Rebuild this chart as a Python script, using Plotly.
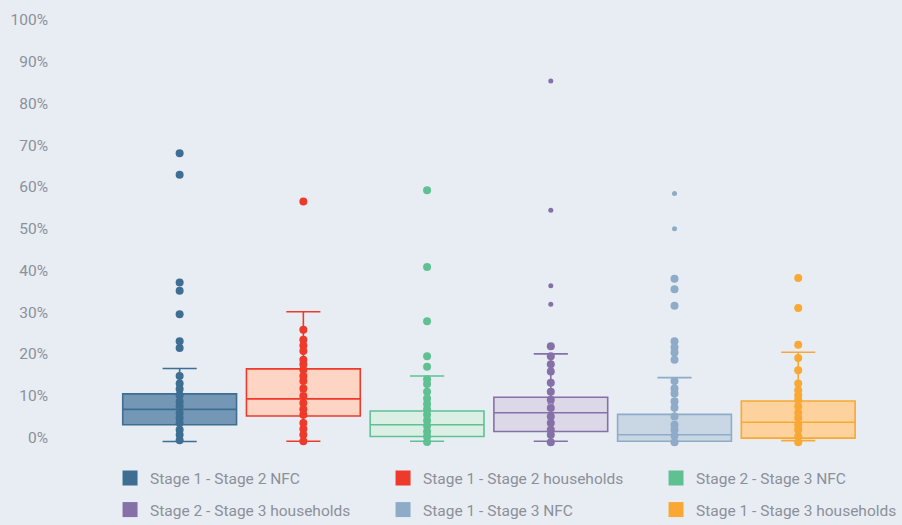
import plotly.graph_objects as go

# Transition rates by stage (%), one box per series
series = [
    "Stage 1 - Stage 2 NFC",
    "Stage 1 - Stage 2 households",
    "Stage 2 - Stage 3 NFC",
    "Stage 2 - Stage 3 households",
    "Stage 1 - Stage 3 NFC",
    "Stage 1 - Stage 3 households",
]

q1 = [3.0, 5.1, 0.2, 1.4, -0.95, -0.2]
median = [6.7, 9.2, 3.0, 5.9, 0.6, 3.6]
q3 = [10.4, 16.4, 6.3, 9.6, 5.5, 8.7]
lower_fence = [-1.0, -0.95, -0.95, -0.95, -0.95, -0.8]
upper_fence = [16.5, 30.1, 14.7, 20.0, 14.3, 20.4]
means = [10.2, 11.5, 8.1, 8.6, 8.6, 9.0]

obs_s1s2_nfc = [68.1, 62.9, 37.1, 35.1, 29.5, 23.0, 21.4, 14.7, 12.9, 11.6, 10.1,
                8.6, 7.5, 5.8, 4.6, 3.4, 1.8, 0.6, -0.7]
obs_s1s2_hh = [56.5, 25.8, 23.4, 22.0, 20.7, 18.6, 17.5, 16.2, 14.7, 13.5, 11.7,
               9.9, 8.2, 6.7, 5.4, 3.4, 2.0, 0.6, -0.95]
obs_s2s3_nfc = [59.2, 40.8, 27.8, 19.4, 16.9, 13.9, 12.8, 10.9, 9.3, 8.0, 6.7,
                5.4, 4.0, 2.8, 1.4, 0.2, -1.1]
obs_s2s3_hh = [85.4, 54.4, 36.3, 31.9, 21.8, 19.4, 17.5, 15.8, 13.1, 10.9, 9.0,
               7.0, 5.0, 3.4, 1.8, 0.6, -1.2]
obs_s1s3_nfc = [58.4, 50.0, 38.0, 35.5, 31.5, 23.0, 21.6, 20.3, 18.6, 13.5, 11.7,
                10.5, 8.6, 7.1, 5.0, 3.0, 1.8, 0.4, -1.2]
obs_s1s3_hh = [38.2, 31.0, 22.2, 19.0, 16.1, 12.9, 11.3, 10.1, 9.0, 7.4, 5.9,
               4.6, 3.0, 1.8, 0.2, -1.2]
observations = [obs_s1s2_nfc, obs_s1s2_hh, obs_s2s3_nfc, obs_s2s3_hh,
                obs_s1s3_nfc, obs_s1s3_hh]

# number of leading points drawn with the smaller dot
small_dots = [0, 0, 0, 4, 2, 0]

y_ticks = list(range(0, 101, 10))
y_tick_labels = [f"{v}%" for v in y_ticks]

line_colors = ["#3e6e92", "#ee3a2b", "#5fc192", "#8571a7", "#8eabc7", "#f9a834"]
fill_colors = ["#7397b4", "#fed5c4", "#dcefe4", "#ddd8e7", "#c9d6e4", "#fed29c"]

FONT = "Roboto, sans-serif"
FONT_SIZE = 15.5
TEXT = "#8c9099"
BG = "#e8edf4"

fig = go.Figure()

for i, name in enumerate(series):
    fig.add_trace(go.Box(
        x=[i], q1=[q1[i]], median=[median[i]], q3=[q3[i]],
        lowerfence=[lower_fence[i]], upperfence=[upper_fence[i]],
        width=0.92, whiskerwidth=0.3,
        line=dict(color=line_colors[i], width=1.6),
        fillcolor=fill_colors[i], boxpoints=False,
        showlegend=False, hoverinfo="skip",
    ))

for i, name in enumerate(series):
    # mean marker
    fig.add_trace(go.Scatter(
        x=[i], y=[means[i]], mode="markers",
        marker=dict(symbol="x-thin", size=6, line=dict(color=line_colors[i], width=1.2)),
        showlegend=False, hoverinfo="skip",
    ))
    vals = observations[i]
    sizes = [5 if k < small_dots[i] else 8 for k in range(len(vals))]
    fig.add_trace(go.Scatter(
        x=[i] * len(vals), y=vals, mode="markers",
        marker=dict(color=line_colors[i], size=sizes, opacity=1, line=dict(width=0)),
        showlegend=False, hoverinfo="y",
    ))

# legend entries: two rows of three
for i, name in enumerate(series):
    fig.add_trace(go.Scatter(
        x=[None], y=[None], mode="markers", name=name,
        marker=dict(symbol="square", size=15, color=line_colors[i]),
        legend="legend" if i < 3 else "legend2",
    ))

legend_common = dict(
    orientation="h", xref="container", yref="container",
    xanchor="left", yanchor="middle",
    entrywidth=228, entrywidthmode="pixels",
    bgcolor="rgba(0,0,0,0)", borderwidth=0,
    font=dict(family=FONT, size=FONT_SIZE, color=TEXT),
    itemsizing="trace",
)

fig.update_layout(
    width=902, height=525,
    margin=dict(l=47, r=10, t=10, b=70),
    paper_bgcolor=BG, plot_bgcolor=BG,
    font=dict(family=FONT, size=FONT_SIZE, color=TEXT),
    xaxis=dict(range=[-1.056, 5.758], showticklabels=False, showgrid=False,
               zeroline=False, showline=False, ticks=""),
    yaxis=dict(range=[-3.4, 102.4], tickvals=y_ticks, ticktext=y_tick_labels,
               showgrid=False, zeroline=False, showline=False, ticks="",
               tickfont=dict(family=FONT, size=FONT_SIZE, color=TEXT)),
    legend=dict(x=0.122, y=1 - 478.5 / 525, **legend_common),
    legend2=dict(x=0.122, y=1 - 510 / 525, **legend_common),
    showlegend=True,
)

fig.write_html("out.html")
